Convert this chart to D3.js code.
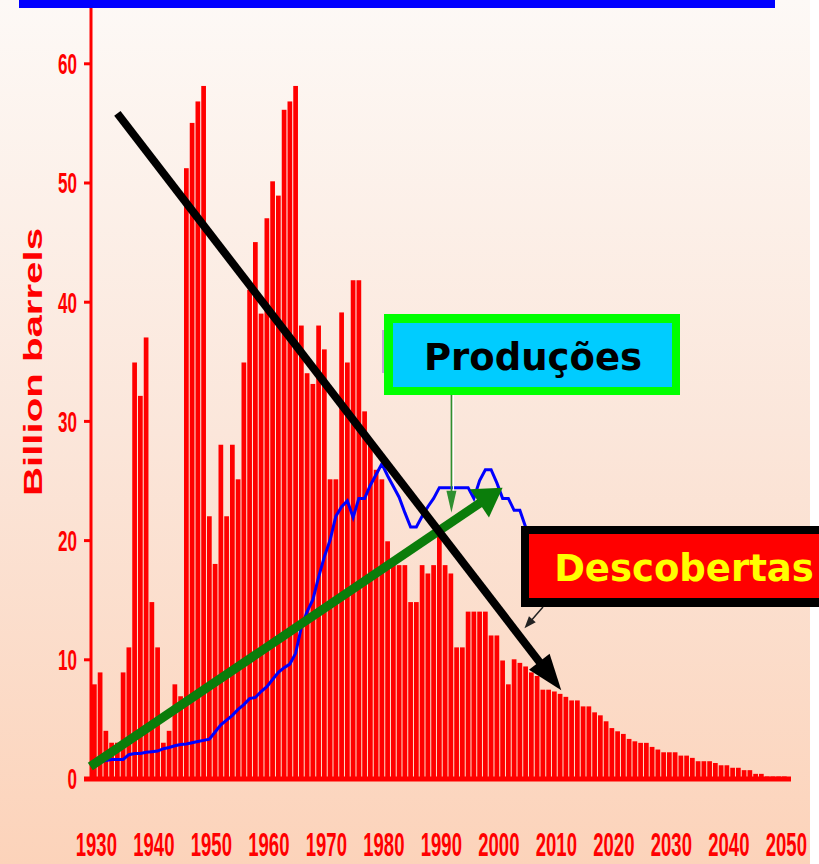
<!DOCTYPE html>
<html>
<head>
<meta charset="utf-8">
<script src="https://cdn.jsdelivr.net/npm/d3@7"></script>
<style>
  html, body { margin: 0; padding: 0; background: #ffffff; }
  svg { display: block; }
</style>
</head>
<body>
<svg id="chart" width="819" height="864"></svg>
<script>
// ---- data -------------------------------------------------------------
const years = d3.range(1930, 2051);

// Oil discoveries per year, billion barrels (1930-2050)
const discoveries = [
  7.9, 8.9, 4.0, 3.0, 3.0, 8.9, 11.0, 34.9, 32.1, 37.0,
  14.8, 11.0, 3.0, 4.0, 7.9, 6.9, 51.2, 55.0, 56.8, 58.1,
  22.0, 18.0, 28.0, 22.0, 28.0, 25.1, 34.9, 41.0, 45.0, 39.0,
  47.0, 50.1, 48.9, 56.1, 56.8, 58.1, 38.0, 34.0, 33.1, 38.0,
  36.0, 25.1, 25.1, 39.1, 34.9, 41.8, 41.8, 30.8, 28.2, 25.9,
  25.1, 19.9, 18.5, 17.9, 17.9, 14.8, 14.8, 17.9, 17.2, 17.9,
  20.5, 17.9, 17.2, 11.0, 11.0, 14.0, 14.0, 14.0, 14.0, 12.0,
  12.0, 9.9, 7.9, 10.0, 9.7, 9.4, 8.9, 8.6, 7.45, 7.45,
  7.3, 7.1, 6.85, 6.55, 6.55, 6.05, 6.05, 5.55, 5.3, 4.8,
  4.23, 3.96, 3.74, 3.32, 3.12, 2.99, 2.99, 2.65, 2.43, 2.2,
  2.2, 2.2, 1.92, 1.92, 1.73, 1.45, 1.45, 1.45, 1.3, 1.11,
  1.11, 0.9, 0.9, 0.7, 0.7, 0.39, 0.39, 0.17, 0.17, 0.17,
  0.17
];

// Oil production per year, billion barrels (1930-2006)
const productionYears = d3.range(1930, 2007);
const production = [
  1.0, 1.4, 1.5, 1.6, 1.6, 1.6, 2.0, 2.1, 2.1, 2.2,
  2.25, 2.3, 2.5, 2.6, 2.75, 2.85, 2.9, 3.0, 3.1, 3.2,
  3.3, 3.9, 4.5, 4.9, 5.3, 5.8, 6.2, 6.7, 6.8, 7.3,
  7.7, 8.3, 8.9, 9.3, 9.6, 10.5, 12.7, 14.0, 15.0, 16.9,
  18.6, 20.0, 22.0, 22.8, 23.3, 21.9, 23.5, 23.5, 24.6, 25.5,
  26.4, 25.4, 24.5, 23.6, 22.3, 21.1, 21.1, 22.0, 22.8, 23.5,
  24.4, 24.4, 24.4, 24.4, 24.4, 24.4, 23.5, 25.0, 25.9, 25.9,
  24.8, 23.5, 23.5, 22.5, 22.5, 21.1, 20.5
];

const yTicks = [0, 10, 20, 30, 40, 50, 60];
const xTickYears = d3.range(1930, 2051, 10);
const yTitle = "Billion barrels";
const productionLabel = "Produções";
const discoveryLabel = "Descobertas";

// Trend arrows, [year, billion barrels]
const discoveryTrend = [[1934.0, 55.8], [2011.2, 7.4]];
const productionTrend = [[1929.3, 1.0], [2001.0, 24.4]];
// Where the two callout pointers land, [year, billion barrels]
const productionPointer = [1992.1, 22.3];
const discoveryPointer = [2004.8, 12.6];

// ---- layout -------------------------------------------------------------
const svg = d3.select("#chart");
const RED = "#ff0000";
const LABEL_FONT = "'Liberation Sans', Arial, sans-serif";
const BOX_FONT = "'DejaVu Sans', Verdana, sans-serif";

const step = 5.75, pad = 0.18;
const x = d3.scaleBand()
  .domain(years)
  .range([92, 92 + step * (years.length - pad)])
  .paddingInner(pad)
  .paddingOuter(0);
const cx = yr => x(yr) + x.bandwidth() / 2;
const xYear = d3.scaleLinear().domain([1930, 2050]).range([cx(1930), cx(2050)]);
const y = d3.scaleLinear().domain([0, 60]).range([778.5, 63.3]);

// background gradient
const defs = svg.append("defs");
const grad = defs.append("linearGradient")
  .attr("id", "bg").attr("x1", 0).attr("y1", 0).attr("x2", 0).attr("y2", 1);
grad.append("stop").attr("offset", "0%").attr("stop-color", "#fdf9f6");
grad.append("stop").attr("offset", "50%").attr("stop-color", "#fbe6da");
grad.append("stop").attr("offset", "100%").attr("stop-color", "#fcd3ba");

svg.append("rect").attr("x", 0).attr("y", 0).attr("width", 810).attr("height", 864)
  .attr("fill", "url(#bg)");
svg.append("rect").attr("x", 810).attr("y", 0).attr("width", 9).attr("height", 864)
  .attr("fill", "#ffffff");

// title band
svg.append("rect").attr("x", 19).attr("y", 0).attr("width", 756).attr("height", 8)
  .attr("fill", "#0000ff");

// discovery bars
svg.append("g").selectAll("rect")
  .data(years.map((yr, i) => ({ yr, v: discoveries[i] })))
  .join("rect")
  .attr("x", d => x(d.yr))
  .attr("y", d => y(d.v))
  .attr("width", x.bandwidth())
  .attr("height", d => y(0) - y(d.v))
  .attr("fill", RED);

// baseline
svg.append("rect").attr("x", 84).attr("y", y(0) - 2).attr("width", 707).attr("height", 5)
  .attr("fill", RED);

// y axis
svg.append("line").attr("x1", 91).attr("x2", 91).attr("y1", 8).attr("y2", y(0) + 2)
  .attr("stroke", RED).attr("stroke-width", 3);
const yAxis = svg.append("g").attr("transform", "translate(91,0)")
  .call(d3.axisLeft(y).tickValues(yTicks).tickSize(7).tickPadding(7));
yAxis.select(".domain").remove();
yAxis.selectAll(".tick line").attr("stroke", RED).attr("stroke-width", 3);
yAxis.selectAll(".tick text")
  .attr("fill", RED)
  .attr("font-family", LABEL_FONT)
  .attr("font-weight", "bold")
  .attr("font-size", 29)
  .attr("dy", "0.36em")
  .attr("textLength", d => String(d).length * 9.5)
  .attr("lengthAdjust", "spacingAndGlyphs");

// y title
svg.append("text")
  .attr("transform", "translate(33,362) rotate(-90)")
  .attr("text-anchor", "middle")
  .attr("dy", "0.36em")
  .attr("fill", RED)
  .attr("font-family", LABEL_FONT)
  .attr("font-weight", "bold")
  .attr("font-size", 26)
  .attr("textLength", 268)
  .attr("lengthAdjust", "spacingAndGlyphs")
  .text(yTitle);

// x axis labels: narrow, tall bold digits (small font stretched vertically)
const xAxis = svg.append("g").attr("transform", "translate(2,832)")
  .call(d3.axisBottom(x).tickValues(xTickYears).tickSize(0).tickPadding(0));
xAxis.select(".domain").remove();
xAxis.selectAll(".tick text")
  .attr("fill", RED)
  .attr("font-family", LABEL_FONT)
  .attr("font-weight", "bold")
  .attr("font-size", 18.5)
  .attr("y", 0)
  .attr("dy", "0.72em")
  .attr("transform", "scale(1,1.82)");

// production line
const line = d3.line().x(d => cx(d.yr)).y(d => y(d.v));
svg.append("path")
  .datum(productionYears.map((yr, i) => ({ yr, v: production[i] })))
  .attr("d", line)
  .attr("fill", "none")
  .attr("stroke", "#0000ff")
  .attr("stroke-width", 3)
  .attr("stroke-linejoin", "miter");

// arrow helper: shaft + triangular head, all in pixels
function arrow(p0, p1, opt) {
  const dx = p1[0] - p0[0], dy = p1[1] - p0[1];
  const len = Math.hypot(dx, dy);
  const ux = dx / len, uy = dy / len, nx = -uy, ny = ux;
  const bx = p1[0] - ux * opt.headLen, by = p1[1] - uy * opt.headLen;
  const g = svg.append("g");
  g.append("line")
    .attr("x1", p0[0]).attr("y1", p0[1])
    .attr("x2", bx + ux * 2).attr("y2", by + uy * 2)
    .attr("stroke", opt.color).attr("stroke-width", opt.width)
    .attr("stroke-linecap", opt.cap || "butt");
  g.append("path")
    .attr("d", d3.line()([
      [p1[0], p1[1]],
      [bx + nx * opt.headW / 2, by + ny * opt.headW / 2],
      [bx - nx * opt.headW / 2, by - ny * opt.headW / 2]
    ]) + "Z")
    .attr("fill", opt.color);
  return g;
}
const P = d => [xYear(d[0]), y(d[1])];

// production trend (green)
arrow(P(productionTrend[0]), P(productionTrend[1]),
  { color: "#0b7d0b", width: 9, headLen: 28, headW: 34 });

// discovery trend (black)
arrow(P(discoveryTrend[0]), P(discoveryTrend[1]),
  { color: "#000000", width: 8, headLen: 36, headW: 26 });

// production callout
const pTip = P(productionPointer);
svg.append("line").attr("x1", pTip[0] + 2).attr("x2", pTip[0] + 2)
  .attr("y1", 395).attr("y2", pTip[1] - 18)
  .attr("stroke", "#ffffff").attr("stroke-width", 1.2);
arrow([pTip[0], 395], pTip, { color: "#2f8f2f", width: 1.6, headLen: 22, headW: 10 });

svg.append("line").attr("x1", 383).attr("x2", 383).attr("y1", 330).attr("y2", 373)
  .attr("stroke", "#c7a3d6").attr("stroke-width", 2);
svg.append("rect").attr("x", 384).attr("y", 314).attr("width", 296).attr("height", 81)
  .attr("fill", "#00ff00");
svg.append("rect").attr("x", 393).attr("y", 323).attr("width", 279).attr("height", 64)
  .attr("fill", "#00ccff");
svg.append("text")
  .attr("x", 533).attr("y", 370)
  .attr("text-anchor", "middle")
  .attr("font-family", BOX_FONT)
  .attr("font-weight", "bold")
  .attr("font-size", 37)
  .attr("fill", "#000000")
  .text(productionLabel);

// discovery callout
svg.append("rect").attr("x", 521).attr("y", 526).attr("width", 310).attr("height", 81)
  .attr("fill", "#000000");
svg.append("rect").attr("x", 529).attr("y", 534).attr("width", 300).attr("height", 64)
  .attr("fill", RED);
svg.append("text")
  .attr("x", 684).attr("y", 581)
  .attr("text-anchor", "middle")
  .attr("font-family", BOX_FONT)
  .attr("font-weight", "bold")
  .attr("font-size", 37)
  .attr("fill", "#ffff00")
  .text(discoveryLabel);
arrow([543, 607], P(discoveryPointer), { color: "#222222", width: 1.5, headLen: 12, headW: 9 });
</script>
</body>
</html>
